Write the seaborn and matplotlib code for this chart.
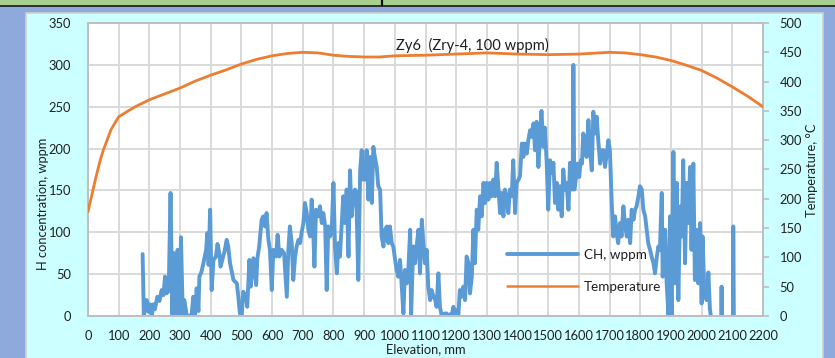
import numpy as np
import pandas as pd
import matplotlib
matplotlib.use("Agg")
import matplotlib.pyplot as plt
from matplotlib.patches import Rectangle
from matplotlib.lines import Line2D
import seaborn as sns

sns.set_style("white")
plt.rcParams["font.family"] = ["Lato", "DejaVu Sans"]

# Hydrogen concentration profile along the rod (None marks a break in the record)
ch_elev = [178, 182, 191, 197, 202, 208, 213, 218, 226, 233, 240, 246, 251, 256, 263, 269, 275, 280, 286, 292,
           298, 303, 309, 314, 322, 330, 338, 343, 349, 354, 360, 363, 370, 376, 385, 389, 393, 398, 403, 409,
           417, 422, 428, 432, 439, 445, 452, 457, 463, 474, 485, 490, 495, 501, 506, 515, 519, 526, 530, 539,
           548, 552, 558, 566, 571, 577, 582, 588, 593, 599, 604, 613, 618, 624, 631, 639, 648, 653, 658, 664,
           669, 675, 680, 686, 691, 696, 702, 707, 713, 718, 724, 729, 734, 738, 743, 751, 756, 762, 767, 773,
           778, 783, 789, 794, 800, 805, 811, 816, 821, 832, 838, 843, 849, 854, 859, 865, 870, 874, 881, 887,
           892, 897, 903, 908, 914, 919, 925, 930, 935, 941, 946, 952, 957, 963, 968, 974, 979, 984, 990, 995,
           1001, 1006, 1011, 1017, 1022, 1028, 1033, 1039, 1044, 1050, 1053, 1060, 1066, 1071, 1077, 1082, 1088,
           1093, 1098, 1104, 1109, 1115, 1120, 1126, 1131, 1136, 1142, 1147, 1153, 1158, 1164, 1169, 1174, 1180,
           1185, 1191, 1196, 1202, 1207, 1212, 1218, 1223, 1229, 1234, 1240, 1245, 1251, 1256, 1261, 1267, 1272,
           1278, 1283, 1289, 1294, 1299, 1305, 1310, 1316, 1321, 1327, 1332, 1337, 1343, 1348, 1354, 1359, 1365,
           1370, 1375, 1381, 1386, 1392, 1397, 1403, 1408, 1414, 1419, 1424, 1430, 1435, 1441, 1446, 1452, 1457,
           1462, 1468, 1473, 1478, 1484, 1489, 1495, 1500, 1506, 1511, 1517, 1522, 1528, 1533, 1538, 1544, 1549,
           1555, 1560, 1566, 1571, 1577, 1580, 1582, 1585, 1591, 1595, 1601, 1606, 1610, 1614, 1620, 1625, 1631,
           1636, 1642, 1647, 1653, 1658, 1663, 1669, 1674, 1680, 1685, 1691, 1696, 1701, 1707, 1712, 1718, 1723,
           1728, 1734, 1739, 1745, 1750, 1756, 1761, 1767, 1772, 1778, 1783, 1788, 1794, 1799, 1805, 1810, 1816,
           1821, 1826, 1832, 1837, 1843, 1848, 1854, 1859, 1864, 1870, 1873, 1881, 1886, 1892, 1897, 1902, 1908,
           1913, 1919, 1924, 1930, 1935, 1940, 1946, 1951, 1957, 1962, 1967, 1973, 1978, 1984, 1989, 1995, 2000,
           2003, 2008, 2011, 2016, 2022, 2027, 2030,
           None,
           2064, 2065, 2066,
           None,
           2102, 2103, 2104, 2105]
ch_wppm = [74, 0, 19, 5, 14, 0, 14, 8, 23, 18, 31, 25, 47, 27, 30, 147, 0, 75, 3, 79,
           0, 94, 0, 19, 0, 0, 2, 23, 0, 33, 6, 47, 53, 63, 79, 99, 61, 127, 31, 67,
           71, 86, 75, 59, 69, 77, 91, 83, 63, 43, 39, 23, 3, 0, 29, 23, 11, 67, 35, 69,
           37, 69, 83, 115, 119, 107, 123, 91, 79, 31, 79, 71, 97, 71, 79, 75, 23, 79, 107, 87,
           43, 71, 83, 91, 87, 99, 111, 135, 123, 103, 95, 139, 103, 59, 127, 119, 131, 111, 123, 107,
           31, 107, 95, 99, 159, 83, 51, 87, 71, 143, 111, 151, 71, 174, 119, 143, 151, 149, 43, 174,
           198, 163, 163, 198, 139, 190, 135, 202, 190, 178, 155, 151, 95, 83, 103, 107, 87, 107, 87, 83,
           67, 55, 47, 67, 39, 3, 55, 39, 55, 103, 0, 83, 63, 83, 103, 51, 115,
           87, 63, 79, 35, 19, 31, 23, 20, 11, 51, 11, 0, 2, 3, 3, 0, 2,
           0, 11, 0, 7, 0, 31, 23, 35, 19, 71, 63, 27, 47, 103, 63, 127, 103,
           143, 119, 159, 135, 159, 139, 159, 143, 163, 143, 183, 155, 123, 147, 119, 151, 139,
           123, 151, 143, 186, 123, 159, 163, 167, 206, 190, 206, 194, 210, 222, 214, 230, 198,
           232, 178, 215, 245, 202, 225, 183, 127, 186, 171, 183, 135, 159, 127, 155, 119, 175,
           151, 159, 127, 183, 151, 175, 300, 151, 166, 182, 166, 186, 182, 218, 210, 190, 234,
           198, 174, 244, 218, 238, 210, 182, 198, 198, 178, 194, 210, 198, 135, 95, 119, 99,
           87, 111, 95, 131, 111, 95, 115, 87, 127, 115, 127, 131, 143, 155, 151, 127, 119,
           103, 87, 79, 71, 63, 51, 71, 83, 79, 147, 47, 103, 39, 0, 119, 0, 196,
           39, 159, 19, 131, 95, 186, 63, 159, 111, 178, 79, 182, 43, 103, 39, 111, 15,
           95, 39, 31, 19, 52, 8, 0,
           None,
           0, 35, 0,
           None,
           0, 107, 60, 0]

# Cladding temperature along the rod
temp_elev = [0, 25, 40, 50, 75, 100, 150, 200, 250, 300, 350, 400, 450, 500, 550, 600, 650, 700, 750, 800,
             850, 900, 950, 1000, 1100, 1200, 1300, 1400, 1500, 1600, 1700, 1750, 1800, 1850, 1900, 1950,
             2000, 2050, 2100, 2150, 2200]
temp_c = [178, 235, 266, 283, 318, 340, 356, 369, 379, 389, 401, 411, 420, 430, 438, 444, 448, 450, 449, 445,
          443, 442, 442, 444, 445, 447, 449, 447, 446, 447, 450, 449, 446, 442, 436, 428,
          419, 406, 391, 375, 357]

x_ticks = list(range(0, 2201, 100))
h_ticks = list(range(0, 351, 50))
t_ticks = list(range(0, 501, 50))

BLUE = "#5B9BD5"
ORANGE = "#ED7D31"
TEXT = "#1F1F1F"
GRID = "#D9D9D9"
SPINE = "#BFBFBF"

# break the hydrogen record into continuous pieces
seg, cur = [], 0
for v in ch_elev:
    if v is None:
        cur += 1
    seg.append(cur)
ch = pd.DataFrame({"elev": ch_elev, "wppm": ch_wppm, "seg": seg}).dropna()
temp = pd.DataFrame({"elev": temp_elev, "temp": temp_c})

W, H = 835, 358
fig = plt.figure(figsize=(W / 100, H / 100), dpi=100, facecolor="#8EA9DB")

# slide frame: green header strip, dark rule and the pale cyan chart panel
fig.patches.append(Rectangle((0, 1 - 6 / H), 1, 6 / H, transform=fig.transFigure,
                             facecolor="#A9D08E", edgecolor="none", zorder=-3))
fig.add_artist(Line2D([0, 1], [1 - 6 / H, 1 - 6 / H], transform=fig.transFigure,
                      color="#1A1A1A", lw=1.2, zorder=-2))
fig.add_artist(Line2D([382 / W, 382 / W], [1.0, 1 - 5 / H], transform=fig.transFigure,
                      color="#111111", lw=1.6, zorder=-1))
fig.patches.append(Rectangle((26 / W, -0.01), (823 - 26) / W, 1 - 13 / H + 0.01, transform=fig.transFigure,
                             facecolor="#CCFFFF", edgecolor="#D0D0D0", lw=1.2, zorder=-3))

ax = fig.add_axes([88 / W, 42 / H, 675 / W, 293 / H])
ax.set_facecolor("white")
ax2 = ax.twinx()

sns.lineplot(data=ch, x="elev", y="wppm", units="seg", estimator=None, sort=False,
             color=BLUE, lw=2.8, ax=ax, legend=False, zorder=3)
sns.lineplot(data=temp, x="elev", y="temp", color=ORANGE, lw=2.0, ax=ax2, legend=False, zorder=4)

ax.set_xlim(0, 2200)
ax.set_ylim(0, 350)
ax2.set_ylim(0, 500)
ax.set_xticks(x_ticks)
ax.set_yticks(h_ticks)
ax2.set_yticks(t_ticks)
ax.grid(True, color=GRID, lw=1.4)
ax.set_axisbelow(True)
ax2.grid(False)

for a in (ax, ax2):
    for s in a.spines.values():
        s.set_color(SPINE)
        s.set_linewidth(1.4)

ax.tick_params(axis="x", length=0, pad=10, labelsize=9.3, labelcolor=TEXT)
ax.tick_params(axis="y", length=0, pad=12, labelsize=9.3, labelcolor=TEXT)
ax2.tick_params(axis="y", length=4, width=1.2, color=SPINE, pad=8, labelsize=9.3, labelcolor=TEXT)

ax.set_xlabel("Elevation, mm", fontsize=9.3, color=TEXT, labelpad=1)
ax.set_ylabel("")
ax2.set_ylabel("")
fig.text(43 / W, 1 - 204 / H, "H concentration, wppm", rotation=90, ha="center", va="center",
         fontsize=9.3, color=TEXT)
fig.text(812 / W, 1 - 170 / H, "Temperature, °C", rotation=90, ha="center", va="center",
         fontsize=9.3, color=TEXT)

ax.text((472 - 88) / 675, (316 - 45) / 293, "Zy6  (Zry-4, 100 wppm)", transform=ax.transAxes,
        ha="center", va="center", fontsize=10.6, color=TEXT)

handles = [Line2D([], [], color=BLUE, lw=2.8), Line2D([], [], color=ORANGE, lw=1.8)]
fig.legend(handles, ["CH, wppm", "Temperature"], loc="upper left",
           bbox_to_anchor=(507 / W, 1 - 249 / H), frameon=False, fontsize=9.7,
           handlelength=5.3, handletextpad=0.4, labelspacing=1.5, borderpad=0, borderaxespad=0,
           labelcolor=TEXT)

fig.savefig("out.png", dpi=100, facecolor=fig.get_facecolor())
